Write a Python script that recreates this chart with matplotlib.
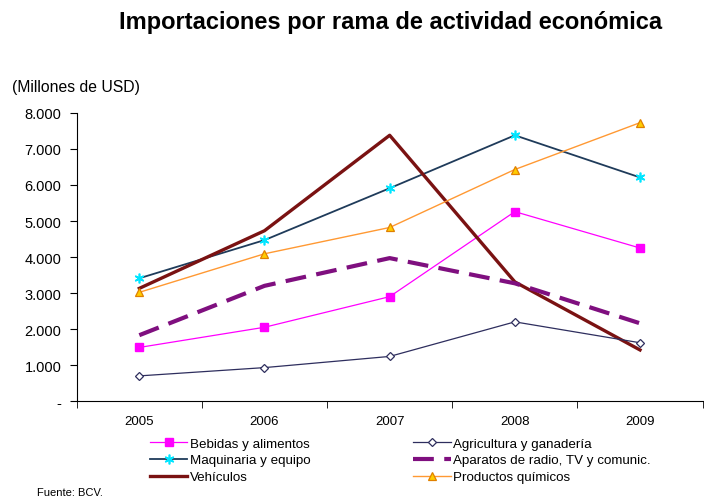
import numpy as np
import matplotlib
matplotlib.use('Agg')
import matplotlib.pyplot as plt

plt.rcParams['font.family'] = ['Liberation Sans', 'DejaVu Sans']

# |~~~~~~~~~~| Daten |~~~~~~~~~~|
years = ['2005', '2006', '2007', '2008', '2009']
bebidas = [1490, 2050, 2900, 5260, 4250]
agricultura = [700, 930, 1240, 2200, 1620]
maquinaria = [3410, 4470, 5910, 7380, 6210]
aparatos = [1830, 3200, 3970, 3270, 2160]
vehiculos = [3130, 4730, 7380, 3310, 1420]
quimicos = [3020, 4090, 4820, 6430, 7730]
y_ticks = [0, 1000, 2000, 3000, 4000, 5000, 6000, 7000, 8000]
y_labels = ['-', '1.000', '2.000', '3.000', '4.000', '5.000', '6.000', '7.000', '8.000']

fig = plt.figure(figsize=(7.04, 5.02), dpi=100)
ax = fig.add_axes([0.109, 0.199, 0.889, 0.574])
x = np.arange(len(years))

ax.plot(x, bebidas, color='#FF00FF', lw=0.9, marker='s', ms=6,
        mfc='#FF00FF', mec='#FF00FF', label='Bebidas y alimentos')
ax.plot(x, maquinaria, color='#1F3B5A', lw=1.3, marker=(6, 2, 0), ms=7,
        mec='#00E5FF', mew=1.2, label='Maquinaria y equipo')
ax.plot(x, vehiculos, color='#7A1212', lw=2.4, label='Vehículos')
ax.plot(x, agricultura, color='#2E2E5E', lw=0.9, marker='D', ms=4.5,
        mfc='white', mec='#2E2E5E', mew=0.9, label='Agricultura y ganadería')
ax.plot(x, aparatos, color='#7F0F7F', lw=3, dashes=(5, 2.5),
        label='Aparatos de radio, TV y comunic.')
ax.plot(x, quimicos, color='#FF9933', lw=1.0, marker='^', ms=6,
        mfc='#FFCC00', mec='#E08000', mew=0.9, label='Productos químicos')

ax.set_xlim(-0.5, 4.5)
ax.set_ylim(0, 8000)
ax.set_xticks(x)
ax.set_xticklabels(years, fontsize=9.5)
ax.set_xticks(np.arange(-0.5, 5.0, 1.0), minor=True)
ax.tick_params(axis='x', which='major', length=0, pad=10)
ax.tick_params(axis='x', which='minor', length=5, direction='out')
ax.set_yticks(y_ticks)
ax.set_yticklabels(y_labels, fontsize=10.5)
ax.tick_params(axis='y', length=5, direction='out', pad=6)
ax.spines['top'].set_visible(False)
ax.spines['right'].set_visible(False)

fig.text(0.555, 0.955, 'Importaciones por rama de actividad económica',
         ha='center', va='center', fontsize=17, fontweight='bold')
fig.text(0.017, 0.825, '(Millones de USD)', ha='left', va='center', fontsize=11.3)
fig.text(0.053, 0.018, 'Fuente: BCV.', ha='left', va='center', fontsize=8)

fig.legend(loc='upper left', bbox_to_anchor=(0.213, 0.127), ncol=2, frameon=False,
           fontsize=9.6, handlelength=2.8, handletextpad=0.2, columnspacing=7.7,
           labelspacing=0.34, borderpad=0, borderaxespad=0)

fig.savefig('out.png', dpi=100)
